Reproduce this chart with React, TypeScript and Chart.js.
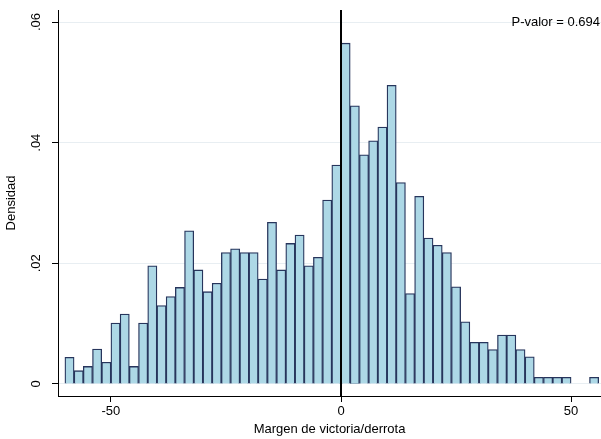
import React, { useEffect, useRef } from "react";
import { Chart, registerables } from "chart.js";

Chart.register(...registerables);

const binStarts = [
  -60, -58, -56, -54, -52, -50, -48, -46, -44, -42, -40, -38, -36, -34, -32, -30, -28, -26, -24, -22,
  -20, -18, -16, -14, -12, -10, -8, -6, -4, -2, 0, 2, 4, 6, 8, 10, 12, 14, 16, 18, 20, 22, 24, 26,
  28, 30, 32, 34, 36, 38, 40, 42, 44, 46, 48, 50, 52, 54,
];
const densities = [
  0.0044, 0.0022, 0.0029, 0.0058, 0.0036, 0.0101, 0.0116, 0.0029, 0.0101, 0.0196, 0.013, 0.0145,
  0.016, 0.0254, 0.0189, 0.0153, 0.0167, 0.0218, 0.0224, 0.0218, 0.0218, 0.0174, 0.0268, 0.0189,
  0.0233, 0.0247, 0.0196, 0.021, 0.0305, 0.0363, 0.0565, 0.0461, 0.038, 0.0403, 0.0426, 0.0495,
  0.0334, 0.015, 0.0311, 0.0242, 0.023, 0.0218, 0.0161, 0.0103, 0.0069, 0.0069, 0.0057, 0.0081,
  0.0081, 0.0057, 0.0045, 0.0011, 0.0011, 0.0011, 0.0011, 0, 0, 0.0011,
];
const yTicks = [0, 0.02, 0.04, 0.06];
const yTickLabels = ["0", ".02", ".04", ".06"];
const xTicks = [-50, 0, 50];
const pValueText = "P-valor = 0.694";
const FONT = "Liberation Sans, Arial, sans-serif";

const overlay = {
  id: "overlay",
  afterDraw(chart: any) {
    const { ctx, scales, chartArea } = chart;
    const x = scales.x;
    const y = scales.y;
    ctx.save();
    // cutoff line at zero
    ctx.strokeStyle = "#000";
    ctx.lineWidth = 2;
    ctx.beginPath();
    ctx.moveTo(x.getPixelForValue(0), chartArea.top);
    ctx.lineTo(x.getPixelForValue(0), chartArea.bottom);
    ctx.stroke();
    // rotated y tick labels
    ctx.fillStyle = "#000";
    ctx.font = `13px ${FONT}`;
    ctx.textAlign = "center";
    ctx.textBaseline = "middle";
    yTicks.forEach((v, i) => {
      ctx.save();
      ctx.translate(chartArea.left - 22, y.getPixelForValue(v));
      ctx.rotate(-Math.PI / 2);
      ctx.fillText(yTickLabels[i], 0, 0);
      ctx.restore();
    });
    ctx.textAlign = "right";
    ctx.fillText(pValueText, chartArea.right - 1, 22);
    ctx.restore();
  },
};

export default function App() {
  const canvasRef = useRef<HTMLCanvasElement>(null);

  useEffect(() => {
    if (!canvasRef.current) return;
    const chart = new Chart(canvasRef.current, {
      type: "bar",
      data: {
        datasets: [
          {
            data: binStarts.map((b, i) => ({ x: b + 1, y: densities[i] })),
            backgroundColor: "#add8e6",
            borderColor: "#27355c",
            borderWidth: 1.3,
            barPercentage: 1,
            categoryPercentage: 1,
          },
        ],
      },
      options: {
        animation: false,
        responsive: false,
        layout: { padding: { top: 10, right: 0, left: 0, bottom: 0 } },
        plugins: { legend: { display: false }, tooltip: { enabled: false } },
        scales: {
          x: {
            type: "linear",
            offset: false,
            min: -61.5,
            max: 56.5,
            afterBuildTicks: (axis: any) => {
              axis.ticks = xTicks.map((v) => ({ value: v }));
            },
            grid: { display: true, offset: false, drawOnChartArea: false, tickLength: 6, color: "#000" },
            border: { color: "#000", width: 1 },
            ticks: {
              color: "#000",
              font: { family: FONT, size: 13 },
              padding: 2,
              maxRotation: 0,
              autoSkip: false,
            },
            title: {
              display: true,
              text: "Margen de victoria/derrota",
              color: "#000",
              font: { family: FONT, size: 13 },
              padding: { top: 0, bottom: 2 },
            },
            afterFit: (axis: any) => {
              axis.height = 43;
            },
          },
          y: {
            min: -0.002,
            max: 0.062,
            afterBuildTicks: (axis: any) => {
              axis.ticks = yTicks.map((v) => ({ value: v }));
            },
            grid: { color: "#e8eef2", tickLength: 6, tickColor: "#000" },
            border: { color: "#000", width: 1 },
            ticks: { display: false },
            title: {
              display: true,
              text: "Densidad",
              color: "#000",
              font: { family: FONT, size: 13 },
            },
            afterFit: (axis: any) => {
              axis.width = 58;
            },
          },
        },
      },
      plugins: [overlay],
    });
    return () => chart.destroy();
  }, []);

  return (
    <div style={{ position: "fixed", left: 0, top: 0, width: 601, height: 439, background: "#fff" }}>
      <canvas ref={canvasRef} width={601} height={439} />
    </div>
  );
}
